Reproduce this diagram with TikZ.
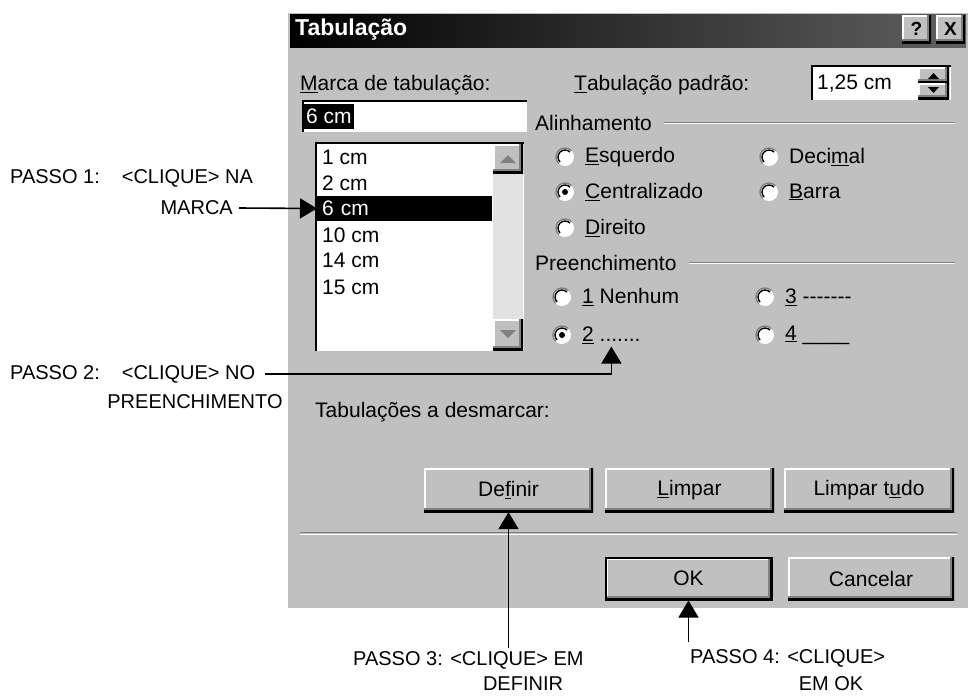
\documentclass[tikz,border=0pt]{standalone}
\usepackage{fontspec}
\setmainfont{Liberation Sans}
\usetikzlibrary{arrows.meta,calc}
\definecolor{winbg}{RGB}{192,192,192}
\definecolor{winshadow}{RGB}{128,128,128}
\definecolor{titleend}{RGB}{96,96,96}
\definecolor{trackc}{RGB}{226,226,226}
\newcommand\dlgfont{\fontsize{21}{25}\selectfont}
\newcommand\annfont{\fontsize{20}{24}\selectfont}
\newcommand\myradio[2]{%
  \fill[white] (#1,#2) circle[radius=9];
  \draw[winshadow,line width=1.4pt] ($(#1,#2)+(6.36,-6.36)$) arc[start angle=-45,end angle=-225,radius=9];
  \draw[black,line width=1.4pt] ($(#1,#2)+(4.95,-4.95)$) arc[start angle=-45,end angle=-225,radius=7];
}
\begin{document}
\begin{tikzpicture}[x=1pt,y=-1pt,
  dlg/.style={font=\dlgfont, inner sep=0pt, anchor=west},
  ann/.style={font=\annfont, inner sep=0pt, anchor=west},
  raised/.style={fill=winbg, inner sep=0pt, font=\dlgfont, minimum height=44pt,
    path picture={
      \draw[white,line width=4pt] (path picture bounding box.south west) |- (path picture bounding box.north east);
      \draw[winshadow,line width=8pt] (path picture bounding box.south west) -| (path picture bounding box.north east);
      \draw[black,line width=4pt] (path picture bounding box.south west) -| (path picture bounding box.north east);
    }},
  sunken/.style={fill=white, inner sep=0pt, anchor=north west,
    path picture={
      \draw[black,line width=4pt] (path picture bounding box.south west) |- (path picture bounding box.north east);
      \draw[winbg,line width=2pt] (path picture bounding box.south west) -| (path picture bounding box.north east);
    }},
  callout/.style={line width=1.6pt, -{Triangle[length=17pt,width=20pt]}}
]
\useasboundingbox (0,0) rectangle (970,697);
\fill[white] (0,0) rectangle (970,697);

% dialog body
\fill[winbg] (287,12) rectangle (968,608);
\draw[white,line width=1pt] (287.5,608) -- (287.5,12.5) -- (968,12.5);
% title bar
\shade[left color=black, right color=titleend] (290,14) rectangle (966,47);
\node[font=\bfseries\fontsize{23}{26}\selectfont, text=white, inner sep=0pt, anchor=west] (title) at (295,30) {Tabulação};
\node[raised, minimum width=29pt, minimum height=28pt, font=\bfseries\fontsize{19}{22}\selectfont] (helpbtn) at (916.5,29) {?};
\node[raised, minimum width=29pt, minimum height=28pt, font=\bfseries\fontsize{19}{22}\selectfont] (closebtn) at (950.5,29) {X};

% top row
\node[dlg] (marcalbl) at (300,85) {\underline{M}arca de tabulação:};
\node[dlg] (padraolbl) at (574,85) {\underline{T}abulação padrão:};
\node[sunken, minimum width=141pt, minimum height=36pt] (spin) at (811,65) {};
\node[dlg] (spintxt) at (817,84) {1,25 cm};
\node[raised, minimum width=31pt, minimum height=16pt] (spinup) at (933.5,75) {};
\node[raised, minimum width=31pt, minimum height=16pt] (spindown) at (933.5,91) {};
\fill (928,79) -- (939,79) -- (933.5,73) -- cycle;
\fill (928,87) -- (939,87) -- (933.5,93) -- cycle;

% field
\node[sunken, minimum width=226pt, minimum height=33pt] (field) at (302,100) {};
\node[dlg, fill=black, text=white, minimum height=25pt, inner xsep=2pt] (fieldsel) at (304,116) {6 cm};

% list box
\node[sunken, minimum width=210pt, minimum height=210pt] (list) at (315,142) {};
\fill[trackc] (493,144) rectangle (523,350);
\node[raised, minimum width=30pt, minimum height=29pt] (scrollup) at (508,158.5) {};
\node[raised, minimum width=30pt, minimum height=31pt] (scrolldown) at (508,334.5) {};
\fill[winshadow] (500,163) -- (516,163) -- (508,155) -- cycle;
\fill[winshadow] (500,330) -- (516,330) -- (508,338) -- cycle;
\node[dlg] (item1) at (322,157) {1 cm};
\node[dlg] (item2) at (322,183) {2 cm};
\node[dlg, fill=black, text=white, minimum height=25pt, text width=165pt, inner xsep=5pt] (item6) at (317,208.5) {6 cm};
\node[dlg] (item10) at (322,235) {10 cm};
\node[dlg] (item14) at (322,260) {14 cm};
\node[dlg] (item15) at (322,287) {15 cm};

% Alinhamento group
\node[dlg] (alin) at (535,123) {Alinhamento};
\coordinate (alinend) at (955,123);
\draw[winshadow,line width=1pt] ([xshift=12pt,yshift=0.5pt]alin.east) -- ([yshift=0.5pt]alinend);
\draw[white,line width=1pt] ([xshift=12pt,yshift=-0.5pt]alin.east) -- ([yshift=-0.5pt]alinend);
\myradio{565}{157}
\myradio{769}{157}
\myradio{565}{192}
\myradio{769}{192}
\myradio{565}{228}
\fill (565,192) circle[radius=3];
\node[dlg] (esq) at (585,157) {\underline{E}squerdo};
\node[dlg] (dec) at (789,157) {Deci\underline{m}al};
\node[dlg] (cen) at (585,192) {\underline{C}entralizado};
\node[dlg] (bar) at (789,192) {\underline{B}arra};
\node[dlg] (dir) at (585,228) {\underline{D}ireito};

% Preenchimento group
\node[dlg] (pree) at (535,263) {Preenchimento};
\coordinate (preeend) at (955,263);
\draw[winshadow,line width=1pt] ([xshift=12pt,yshift=0.5pt]pree.east) -- ([yshift=0.5pt]preeend);
\draw[white,line width=1pt] ([xshift=12pt,yshift=-0.5pt]pree.east) -- ([yshift=-0.5pt]preeend);
\myradio{562}{297}
\myradio{765}{297}
\myradio{562}{335}
\myradio{765}{335}
\fill (562,335) circle[radius=3];
\node[dlg] (fill1) at (582,297) {\underline{1} Nenhum};
\node[dlg] (fill3) at (785,297) {\underline{3} {-}{-}{-}{-}{-}{-}{-}};
\node[dlg] (fill2) at (582,335) {\underline{2} .......};
\node[dlg] (fill4) at (785,335) {\underline{4} \_\_\_\_};

% lower part
\node[dlg] (desm) at (315,412) {Tabulações a desmarcar:};
\node[raised, minimum width=169pt] (definir) at (508.5,490) {De\underline{f}inir};
\node[raised, minimum width=169pt] (limpar) at (689.5,490) {\underline{L}impar};
\node[raised, minimum width=170pt] (limpartudo) at (869,490) {Limpar t\underline{u}do};
\draw[winshadow,line width=1pt] (300,532.5) -- (957,532.5);
\draw[white,line width=1.5pt] (300,534.5) -- (957,534.5);
\node[raised, minimum width=166pt, minimum height=42pt, draw=black, line width=2pt] (okbtn) at (688.5,578.5) {OK};
\node[raised, minimum width=166pt, minimum height=43pt] (cancelar) at (871,578.5) {Cancelar};

% annotations
\node[ann] (p1a) at (10,178) {PASSO 1:\hspace{22pt}<CLIQUE> NA};
\node[ann, anchor=east] (p1b) at (233,208) {MARCA};
\node[ann] (p2a) at (10,374) {PASSO 2:\hspace{22pt}<CLIQUE> NO};
\node[ann, anchor=center] (p2b) at (195,402) {PREENCHIMENTO};
\node[ann] (p3a) at (353,660) {PASSO 3: <CLIQUE> EM};
\node[ann, anchor=center] (p3b) at (523,684) {DEFINIR};
\node[ann] (p4a) at (690,658) {PASSO 4: <CLIQUE>};
\node[ann, anchor=center] (p4b) at (831,684) {EM OK};

\coordinate (p3start) at (definir.south |- 0,648);
\coordinate (p4start) at (okbtn.south |- 0,642);
\draw[callout] ([xshift=6pt]p1b.east) -- (item6.west);
\draw[callout] ([xshift=10pt]p2a.east) -| ([yshift=-3pt]fill2.south);
\draw[callout] (p3start) -- (definir.south);
\draw[callout] (p4start) -- (okbtn.south);
\end{tikzpicture}
\end{document}
